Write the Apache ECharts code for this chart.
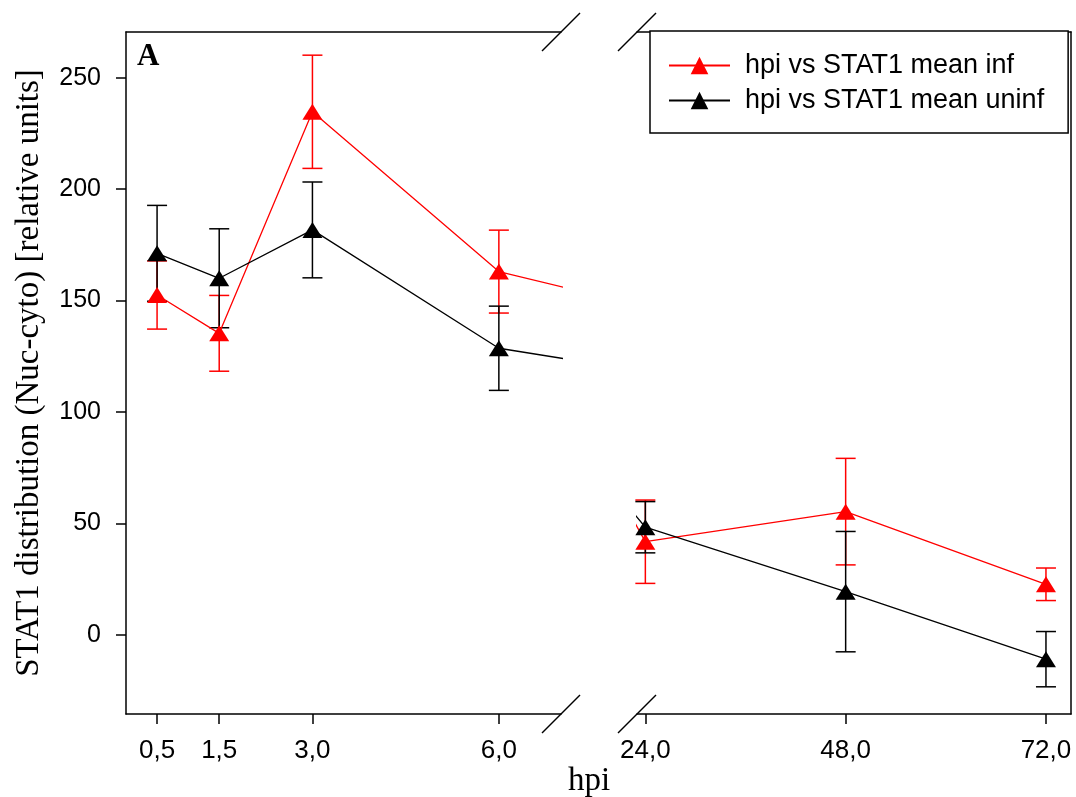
<!DOCTYPE html>
<html>
<head>
<meta charset="utf-8">
<script src="https://cdn.jsdelivr.net/npm/echarts@6/dist/echarts.min.js"></script>
<style>
html,body{margin:0;padding:0;background:#fff;}
#chart{width:1076px;height:797px;}
</style>
</head>
<body>
<div id="chart"></div>
<script>
// ---- data ----
const hpi = [0.5, 1.5, 3.0, 6.0, 24.0, 48.0, 72.0];
const infMean = [152.5, 135.3, 234.7, 163.0, 41.8, 55.3, 22.7];
const infErr = [15.3, 17.0, 25.4, 18.6, 18.7, 23.9, 7.3];
const uninfMean = [171.2, 160.0, 181.7, 128.6, 48.3, 19.4, -10.9];
const uninfErr = [21.5, 22.2, 21.5, 18.9, 11.5, 27.0, 12.4];
const leftTicks = [0.5, 1.5, 3.0, 6.0];
const rightTicks = [24.0, 48.0, 72.0];
const yTicks = [0, 50, 100, 150, 200, 250];
const seriesNames = ['hpi vs STAT1 mean inf', 'hpi vs STAT1 mean uninf'];
const yTitle = 'STAT1 distribution (Nuc-cyto) [relative units]';
const xTitle = 'hpi';
const panelLabel = 'A';

// ---- ranges ----
const leftRange = [0, 7];
const rightRange = [23, 75];
const yRange = [-35.5, 270.5];

const SANS = '"Liberation Sans", Arial, sans-serif';
const SERIF = '"Liberation Serif", "Times New Roman", serif';
const RED = '#ff0000';
const BLACK = '#000000';

const fmt = v => v.toFixed(1).replace('.', ',');
const pairs = (means) => hpi.map((x, i) => [x, means[i]]);
const errData = (means, errs, range) => hpi
  .map((x, i) => [x, means[i] - errs[i], means[i] + errs[i]])
  .filter(d => d[0] >= range[0] && d[0] <= range[1]);

function errRender(params, api) {
  const x = api.value(0), lo = api.value(1), hi = api.value(2);
  const pLo = api.coord([x, lo]);
  const pHi = api.coord([x, hi]);
  const hw = 10;
  const st = { stroke: api.visual('color'), lineWidth: 1.5 };
  return {
    type: 'group',
    children: [
      { type: 'line', shape: { x1: pLo[0], y1: pLo[1], x2: pHi[0], y2: pHi[1] }, style: st },
      { type: 'line', shape: { x1: pHi[0] - hw, y1: pHi[1], x2: pHi[0] + hw, y2: pHi[1] }, style: st },
      { type: 'line', shape: { x1: pLo[0] - hw, y1: pLo[1], x2: pLo[0] + hw, y2: pLo[1] }, style: st }
    ]
  };
}

const axisLineStyle = { color: BLACK, width: 1.5 };

function bottomX(gridIndex, range, ticks) {
  return {
    type: 'value', gridIndex, position: 'bottom', min: range[0], max: range[1],
    axisLine: { show: true, onZero: false, lineStyle: axisLineStyle },
    axisTick: { show: true, length: 10, inside: false, customValues: ticks, lineStyle: { color: BLACK, width: 1.5 } },
    axisLabel: { show: true, customValues: ticks, formatter: fmt, fontFamily: SANS, fontSize: 26, color: BLACK, margin: 24 },
    splitLine: { show: false }
  };
}
function topX(gridIndex, range) {
  return {
    type: 'value', gridIndex, position: 'top', min: range[0], max: range[1],
    axisLine: { show: true, onZero: false, lineStyle: axisLineStyle },
    axisTick: { show: false }, axisLabel: { show: false }, splitLine: { show: false }
  };
}

function lineSeries(name, means, color, gridIdx) {
  return {
    type: 'line', name, xAxisIndex: gridIdx, yAxisIndex: gridIdx,
    data: pairs(means), clip: true,
    symbol: 'triangle', symbolSize: [20, 16], showAllSymbol: true,
    itemStyle: { color }, lineStyle: { color, width: 1.3 },
    z: 3, animation: false
  };
}
function errSeries(name, means, errs, color, gridIdx, range) {
  return {
    type: 'custom', name, xAxisIndex: gridIdx, yAxisIndex: gridIdx,
    data: errData(means, errs, range), renderItem: errRender,
    itemStyle: { color }, encode: { x: 0, y: [1, 2] }, z: 2, animation: false
  };
}

const chart = echarts.init(document.getElementById('chart'), null, { renderer: 'canvas' });

const option = {
  animation: false,
  backgroundColor: '#ffffff',
  grid: [
    { left: 126, top: 32, width: 435, height: 682 },
    { left: 637, top: 32, width: 434, height: 682 }
  ],
  xAxis: [
    bottomX(0, leftRange, leftTicks),
    bottomX(1, rightRange, rightTicks),
    topX(0, leftRange),
    topX(1, rightRange)
  ],
  yAxis: [
    {
      type: 'value', gridIndex: 0, position: 'left', min: yRange[0], max: yRange[1],
      axisLine: { show: true, onZero: false, lineStyle: axisLineStyle },
      axisTick: { show: true, length: 10, customValues: yTicks, lineStyle: { color: BLACK, width: 1.5 } },
      axisLabel: { show: true, customValues: yTicks, fontFamily: SANS, fontSize: 25, color: BLACK, margin: 25 },
      splitLine: { show: false },
      name: yTitle, nameLocation: 'middle', nameGap: 80, nameRotate: 90,
      nameTextStyle: { fontFamily: SERIF, fontSize: 33, color: BLACK }
    },
    {
      type: 'value', gridIndex: 1, position: 'right', min: yRange[0], max: yRange[1],
      axisLine: { show: true, onZero: false, lineStyle: axisLineStyle },
      axisTick: { show: false }, axisLabel: { show: false }, splitLine: { show: false }
    }
  ],
  legend: {
    data: seriesNames,
    orient: 'vertical', left: 650, top: 31,
    itemWidth: 61, itemHeight: 22, itemGap: 8,
    padding: [21, 24, 19, 18],
    borderColor: BLACK, borderWidth: 1.5, backgroundColor: '#ffffff',
    textStyle: { fontFamily: SANS, fontSize: 27, color: BLACK, padding: [0, 0, 0, 10] },
    selectedMode: false
  },
  series: [
    errSeries('err inf L', infMean, infErr, RED, 0, leftRange),
    errSeries('err inf R', infMean, infErr, RED, 1, rightRange),
    errSeries('err uninf L', uninfMean, uninfErr, BLACK, 0, leftRange),
    errSeries('err uninf R', uninfMean, uninfErr, BLACK, 1, rightRange),
    lineSeries(seriesNames[0], infMean, RED, 0),
    lineSeries(seriesNames[0], infMean, RED, 1),
    lineSeries(seriesNames[1], uninfMean, BLACK, 0),
    lineSeries(seriesNames[1], uninfMean, BLACK, 1)
  ]
};
chart.setOption(option);

// break marks and texts positioned from the axes
const tl = chart.convertToPixel({ xAxisIndex: 0, yAxisIndex: 0 }, [leftRange[0], yRange[1]]);
const trL = chart.convertToPixel({ xAxisIndex: 0, yAxisIndex: 0 }, [leftRange[1], yRange[1]]);
const brL = chart.convertToPixel({ xAxisIndex: 0, yAxisIndex: 0 }, [leftRange[1], yRange[0]]);
const tlR = chart.convertToPixel({ xAxisIndex: 1, yAxisIndex: 1 }, [rightRange[0], yRange[1]]);
const blR = chart.convertToPixel({ xAxisIndex: 1, yAxisIndex: 1 }, [rightRange[0], yRange[0]]);
const d = 19;
const slash = (p) => ({
  type: 'line', shape: { x1: p[0] - d, y1: p[1] + d, x2: p[0] + d, y2: p[1] - d },
  style: { stroke: BLACK, lineWidth: 1.5 }, z: 10
});
chart.setOption({
  graphic: [
    slash(trL), slash(brL), slash(tlR), slash(blR),
    {
      type: 'text', x: tl[0] + 11, y: tl[1] + 9,
      style: { text: panelLabel, font: 'bold 31px ' + SERIF, fill: BLACK, verticalAlign: 'top', align: 'left' }, z: 10
    },
    {
      type: 'text', x: (trL[0] + tlR[0]) / 2 - 10, y: brL[1] + 67,
      style: { text: xTitle, font: '33px ' + SERIF, fill: BLACK, verticalAlign: 'middle', align: 'center' }, z: 10
    }
  ]
});
</script>
</body>
</html>
